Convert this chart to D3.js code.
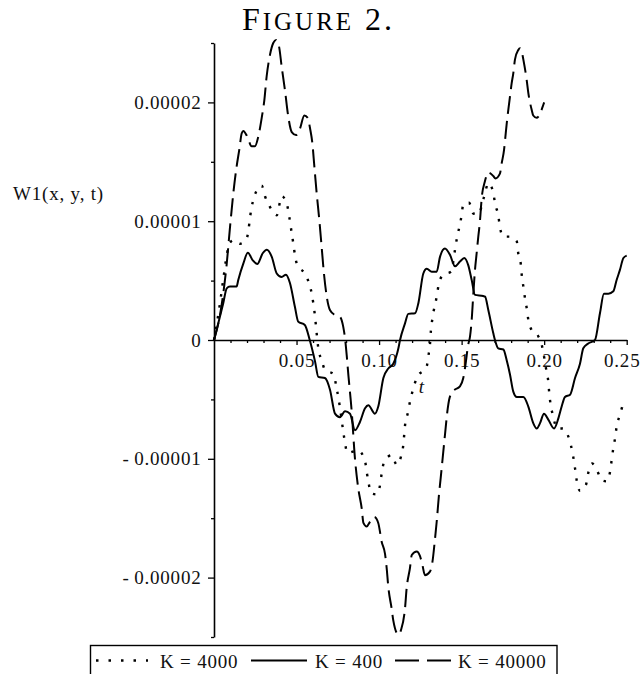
<!DOCTYPE html>
<html>
<head>
<meta charset="utf-8">
<script src="https://cdn.jsdelivr.net/npm/d3@7"></script>
<style>
  html, body { margin: 0; padding: 0; background: #fff; }
  svg { display: block; }
  text { font-family: "Liberation Serif", "Times New Roman", serif; fill: #111; }
</style>
</head>
<body>
<svg id="chart" width="641" height="674"></svg>
<script>
const xTicks = [0.05, 0.10, 0.15, 0.20, 0.25];
const xLabels = ["0.05", "0.10", "0.15", "0.20", "0.25"];
const yTicks = [-2, -1, 0, 1, 2];
const yLabels = ["-\u20090.00002", "-\u20090.00001", "0", "0.00001", "0.00002"];
const seriesNames = ["K = 4000", "K = 400", "K = 40000"];

// [t, W1] pairs
const k4000 = [
  [0, 0], [0.003, 0.25], [0.0055, 0.5], [0.0078, 0.72], [0.0097, 0.82], [0.012, 0.84],
  [0.0158, 0.81], [0.0198, 0.855], [0.0228, 1.12], [0.0259, 1.26], [0.0289, 1.30],
  [0.0309, 1.21], [0.0339, 1.12], [0.038, 1.05], [0.041, 1.21], [0.044, 1.15],
  [0.0471, 0.90], [0.0501, 0.645], [0.0562, 0.53], [0.0592, 0.39], [0.0612, 0.196],
  [0.0622, 0.056], [0.0632, -0.07], [0.0652, -0.17], [0.0672, -0.25], [0.0727, -0.29],
  [0.0739, -0.38], [0.0753, -0.48], [0.0783, -0.77], [0.0794, -0.87], [0.0808, -0.95],
  [0.0874, -0.93], [0.0915, -1.02], [0.0925, -1.11], [0.0935, -1.19], [0.0951, -1.29],
  [0.0985, -1.30], [0.1006, -1.22], [0.1016, -1.12], [0.1032, -1.02], [0.1076, -0.97],
  [0.1107, -1.05], [0.1133, -0.98], [0.1147, -0.88], [0.1157, -0.72], [0.1173, -0.62],
  [0.1187, -0.52], [0.1207, -0.41], [0.1228, -0.32], [0.1289, -0.22], [0.1298, -0.14],
  [0.1308, -0.04], [0.1314, 0.08], [0.1323, 0.18], [0.1349, 0.365], [0.1363, 0.48],
  [0.139, 0.55], [0.1436, 0.575], [0.146, 0.76], [0.1472, 0.86], [0.1486, 0.95],
  [0.15, 1.05], [0.151, 1.145], [0.1545, 1.155], [0.1571, 1.065], [0.1601, 1.06],
  [0.1635, 1.2], [0.1662, 1.32], [0.1692, 1.24], [0.1702, 1.15], [0.1722, 1.05],
  [0.1732, 0.95], [0.1753, 0.87], [0.1793, 0.87], [0.1834, 0.83], [0.1843, 0.73],
  [0.1858, 0.645], [0.1864, 0.55], [0.1874, 0.45], [0.1884, 0.35], [0.1894, 0.27],
  [0.1904, 0.17], [0.1924, 0.084], [0.1965, 0.03], [0.1985, -0.04], [0.2015, -0.27],
  [0.2025, -0.35], [0.2031, -0.45], [0.204, -0.55], [0.2052, -0.63], [0.208, -0.745],
  [0.2112, -0.745], [0.214, -0.79], [0.2161, -0.88], [0.2177, -0.99], [0.2187, -1.08],
  [0.2197, -1.18], [0.2217, -1.27], [0.2253, -1.22], [0.2267, -1.12], [0.229, -1.04],
  [0.2318, -1.09], [0.2349, -1.18], [0.2379, -1.19], [0.2399, -1.11], [0.2409, -1.01],
  [0.2419, -0.91], [0.2429, -0.83], [0.2439, -0.73], [0.2459, -0.63], [0.2475, -0.55]
];

const k400 = [
  [0, 0], [0.0026, 0.14], [0.0056, 0.31], [0.0077, 0.435], [0.0097, 0.45], [0.0137, 0.45],
  [0.0147, 0.505], [0.0178, 0.645], [0.0205, 0.735], [0.0235, 0.67], [0.0262, 0.64],
  [0.0295, 0.73], [0.032, 0.76], [0.035, 0.70], [0.038, 0.56], [0.041, 0.53],
  [0.0436, 0.55], [0.046, 0.48], [0.049, 0.28], [0.051, 0.155], [0.055, 0.126],
  [0.058, 0], [0.0612, -0.18], [0.0632, -0.31], [0.0672, -0.32], [0.0703, -0.42],
  [0.0733, -0.62], [0.0763, -0.65], [0.0794, -0.60], [0.0824, -0.62], [0.0854, -0.76],
  [0.0884, -0.69], [0.0915, -0.575], [0.0935, -0.55], [0.0975, -0.62], [0.0995, -0.56],
  [0.1026, -0.32], [0.1056, -0.24], [0.1086, -0.20], [0.1117, -0.07], [0.1127, 0],
  [0.1157, 0.14], [0.1177, 0.22], [0.1218, 0.225], [0.1238, 0.31], [0.1268, 0.56],
  [0.1289, 0.60], [0.1319, 0.575], [0.1349, 0.575], [0.1369, 0.70], [0.1399, 0.77],
  [0.143, 0.715], [0.146, 0.62], [0.149, 0.66], [0.1516, 0.69], [0.154, 0.63],
  [0.1561, 0.505], [0.1581, 0.38], [0.1631, 0.37], [0.1642, 0.365], [0.1662, 0.25],
  [0.1692, 0.056], [0.1702, 0], [0.1722, -0.07], [0.1753, -0.08], [0.1773, -0.17],
  [0.1793, -0.29], [0.1813, -0.435], [0.1834, -0.48], [0.1874, -0.48], [0.1904, -0.56],
  [0.1934, -0.70], [0.1955, -0.745], [0.1975, -0.70], [0.1999, -0.62], [0.2025, -0.67],
  [0.206, -0.745], [0.2086, -0.66], [0.2106, -0.56], [0.2126, -0.48], [0.2157, -0.46],
  [0.2187, -0.32], [0.2217, -0.20], [0.2237, -0.07], [0.2267, -0.03], [0.2308, 0],
  [0.2338, 0.225], [0.2362, 0.39], [0.2389, 0.39], [0.2419, 0.41], [0.2439, 0.505],
  [0.2459, 0.59], [0.248, 0.69], [0.25, 0.71]
];

const k40000 = [
  [0, 0], [0.0035, 0.2], [0.0056, 0.39], [0.0077, 0.64], [0.0097, 0.95], [0.0117, 1.235],
  [0.0137, 1.46], [0.0153, 1.60], [0.0168, 1.74], [0.0178, 1.76], [0.0202, 1.71],
  [0.0228, 1.63], [0.0248, 1.63], [0.0268, 1.71], [0.0289, 1.87], [0.0305, 2.02],
  [0.0319, 2.22], [0.0339, 2.40], [0.0359, 2.50], [0.0376, 2.525], [0.0394, 2.47],
  [0.041, 2.30], [0.043, 2.10], [0.045, 1.88], [0.0471, 1.75], [0.0497, 1.725],
  [0.0521, 1.78], [0.0547, 1.89], [0.0568, 1.87], [0.0582, 1.78], [0.0596, 1.655],
  [0.0608, 1.46], [0.0622, 1.235], [0.0638, 1.01], [0.0652, 0.785], [0.0666, 0.56],
  [0.0683, 0.365], [0.0703, 0.25], [0.0733, 0.21], [0.0763, 0.195], [0.0783, 0.11],
  [0.0794, 0.01], [0.0804, -0.13], [0.0814, -0.295], [0.0834, -0.6], [0.0854, -1.0],
  [0.0874, -1.25], [0.0895, -1.42], [0.0905, -1.54], [0.0925, -1.57], [0.0945, -1.53],
  [0.0971, -1.49], [0.0995, -1.54], [0.1016, -1.70], [0.1036, -1.80], [0.1046, -1.92],
  [0.1056, -2.08], [0.1076, -2.26], [0.1086, -2.36], [0.1117, -2.48], [0.1133, -2.44],
  [0.1157, -2.26], [0.1167, -2.09], [0.1187, -1.92], [0.1198, -1.81], [0.1228, -1.78],
  [0.1248, -1.82], [0.1262, -1.89], [0.1278, -1.98], [0.1308, -1.95], [0.1323, -1.87],
  [0.1339, -1.67], [0.1349, -1.53], [0.1363, -1.30], [0.1373, -1.165], [0.1389, -0.94],
  [0.1399, -0.80], [0.1416, -0.575], [0.1424, -0.505], [0.1444, -0.435], [0.1456, -0.42],
  [0.149, -0.39], [0.151, -0.32], [0.152, -0.24], [0.154, -0.04], [0.1551, 0.03],
  [0.1561, 0.17], [0.1571, 0.39], [0.1581, 0.59], [0.1591, 0.73], [0.1601, 0.87],
  [0.1611, 1.0], [0.1622, 1.2], [0.164, 1.33], [0.1662, 1.41], [0.1692, 1.38],
  [0.1705, 1.36], [0.1732, 1.40], [0.1743, 1.49], [0.1757, 1.60], [0.1763, 1.68],
  [0.1773, 1.82], [0.1783, 1.94], [0.1793, 2.05], [0.1803, 2.16], [0.1813, 2.245],
  [0.1823, 2.36], [0.1843, 2.44], [0.1854, 2.455], [0.1864, 2.43], [0.1874, 2.36],
  [0.1894, 2.19], [0.1904, 2.08], [0.1924, 1.94], [0.1934, 1.89], [0.1955, 1.87],
  [0.1965, 1.88], [0.1985, 1.94], [0.1995, 1.98], [0.2, 2.0]
];

const seriesData = [k4000, k400, k40000];
const dashes = ["2.5,8.5", null, "18,7"];

const svg = d3.select("#chart");
const x = d3.scaleLinear().domain([0, 0.25]).range([214, 626.7]);
const y = d3.scaleLinear().domain([-2.5, 2.5]).range([637, 43]);

// title in small caps, built by hand so the caps/small-caps ratio is closer to TeX
const title = svg.append("text").attr("x", 317).attr("y", 30)
  .attr("text-anchor", "middle")
  .attr("textLength", 150).attr("lengthAdjust", "spacing")
  .style("fill", "#000");
title.append("tspan").style("font-size", "32px").text("F");
title.append("tspan").style("font-size", "25px").text("IGURE");
title.append("tspan").style("font-size", "32px").text(" 2.");

const TICK_FONT = "19px";

// y axis: major + minor ticks
svg.append("g").attr("transform", `translate(${x(0)},0)`)
  .call(d3.axisLeft(y).tickValues(yTicks).tickFormat((_, i) => yLabels[i])
    .tickSize(6).tickSizeOuter(0).tickPadding(6.5));
svg.append("g").attr("transform", `translate(${x(0)},0)`)
  .call(d3.axisLeft(y).tickValues([-2.5, -1.5, -0.5, 0.5, 1.5, 2.5])
    .tickFormat("").tickSize(3).tickSizeOuter(0))
  .call(g => g.select(".domain").remove());

// x axis through zero
const xAxis = svg.append("g").attr("transform", `translate(0,${y(0)})`)
  .call(d3.axisBottom(x).tickValues(xTicks).tickFormat((_, i) => xLabels[i])
    .tickSize(5).tickSizeOuter(0).tickPadding(9));
svg.append("g").attr("transform", `translate(0,${y(0)})`)
  .call(d3.axisBottom(x).tickValues(d3.range(1, 25).filter(i => i % 5).map(i => i / 100))
    .tickFormat("").tickSize(3).tickSizeOuter(0))
  .call(g => g.select(".domain").remove());

svg.selectAll(".domain").attr("stroke", "#000").attr("stroke-width", 1.6);
svg.selectAll(".tick line").attr("stroke", "#000").attr("stroke-width", 1.3);
svg.selectAll(".tick text")
  .attr("font-family", null).style("font-size", TICK_FONT)
  .style("letter-spacing", "0.8px").attr("fill", "#111");
// last x label sits on the page edge; nudge it in so it stays whole
xAxis.selectAll(".tick text").filter((_, i) => i === xTicks.length - 1).attr("dx", -5);

// axis titles
svg.append("text").attr("x", 13).attr("y", 200)
  .style("font-size", TICK_FONT).style("letter-spacing", "0.8px")
  .text("W1(x, y, t)");
svg.append("text").attr("x", 421.5).attr("y", 393).attr("text-anchor", "middle")
  .style("font-size", TICK_FONT).style("font-style", "italic")
  .text("t");

// curves
const line = d3.line().x(d => x(d[0])).y(d => y(d[1])).curve(d3.curveMonotoneX);
seriesData.forEach((data, i) => {
  svg.append("path").attr("d", line(data))
    .attr("fill", "none").attr("stroke", "#000")
    .attr("stroke-width", i === 0 ? 2.4 : 2)
    .attr("stroke-linejoin", "round")
    .attr("stroke-dasharray", dashes[i]);
});

// legend box at the bottom (runs off the page edge like the original)
const legend = svg.append("g");
legend.append("rect").attr("x", 90.5).attr("y", 645.5).attr("width", 466.5).attr("height", 40)
  .attr("fill", "none").attr("stroke", "#000").attr("stroke-width", 1.4);
const legendItems = [
  { x1: 96, x2: 148, tx: 160 },
  { x1: 251, x2: 307, tx: 315 },
  { x1: 395, x2: 451, tx: 458 }
];
legendItems.forEach((it, i) => {
  legend.append("line").attr("x1", it.x1).attr("x2", it.x2).attr("y1", 660.5).attr("y2", 660.5)
    .attr("stroke", "#000").attr("stroke-width", i === 0 ? 2.6 : 2.2)
    .attr("stroke-dasharray", i === 0 ? "2.5,10" : i === 2 ? "24,8" : null);
  legend.append("text").attr("x", it.tx).attr("y", 668)
    .style("font-size", TICK_FONT).style("letter-spacing", "0.8px")
    .text(seriesNames[i]);
});
</script>
</body>
</html>
